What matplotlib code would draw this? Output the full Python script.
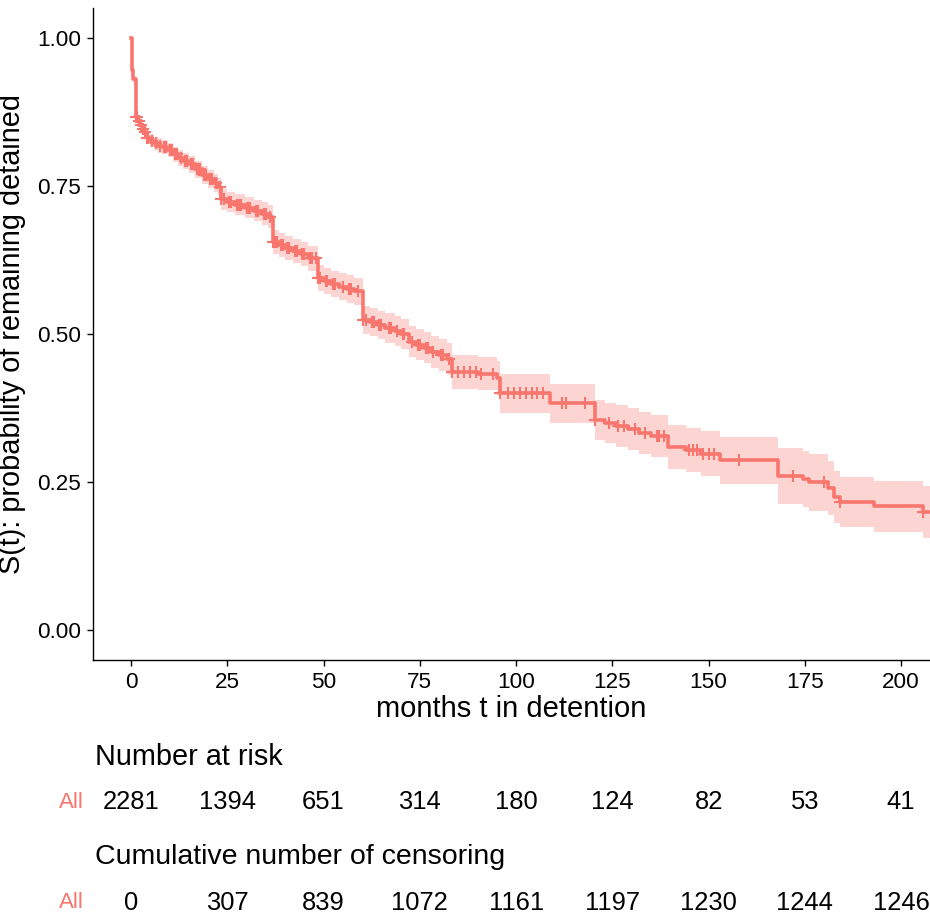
import matplotlib
matplotlib.use("Agg")
import matplotlib.pyplot as plt
import matplotlib.transforms as mtransforms
import numpy as np

plt.rcParams['font.family'] = ['Liberation Sans', 'DejaVu Sans']

RED = "#F8766D"

# Kaplan-Meier steps (time in months, S(t) after the step)
times = [0, 0.1, 0.2, 0.3, 0.4, 1.2, 1.6, 2.2, 2.8, 3.4, 4.0, 5.0, 6.0, 7.0, 8.0,
         9.5, 11, 12.3, 13.5, 15, 16.6, 18.4, 20, 21.5, 22.6, 23.4, 25, 27, 29.6,
         32, 34, 35.6, 36.9, 38.5, 40, 42, 44, 46, 48.6, 50, 52, 54, 56, 58, 60.3,
         62, 64, 66, 68.5, 70, 72.2, 74, 76, 78, 80, 82, 83.4, 90, 95, 95.8, 108.8,
         120.5, 123, 126, 129, 132, 135, 139.5, 144, 148, 153, 168, 174.5, 176,
         181, 182.5, 184, 193, 205.7]
surv = [1.0, 0.98, 0.96, 0.945, 0.93, 0.866, 0.86, 0.853, 0.846, 0.84, 0.83, 0.826,
        0.822, 0.818, 0.815, 0.81, 0.803, 0.797, 0.792, 0.786, 0.778, 0.768, 0.762,
        0.755, 0.748, 0.727, 0.722, 0.718, 0.713, 0.708, 0.703, 0.698, 0.655, 0.65,
        0.645, 0.64, 0.635, 0.628, 0.594, 0.59, 0.585, 0.58, 0.576, 0.572, 0.524,
        0.52, 0.515, 0.51, 0.505, 0.5, 0.487, 0.482, 0.477, 0.47, 0.465, 0.458,
        0.436, 0.433, 0.425, 0.40, 0.383, 0.355, 0.35, 0.345, 0.34, 0.333, 0.328,
        0.31, 0.305, 0.298, 0.287, 0.26, 0.255, 0.25, 0.24, 0.225, 0.216, 0.209,
        0.20]
# half width of the confidence band at each step
ci_half = [0.0, 0.002, 0.004, 0.005, 0.006, 0.008, 0.008, 0.009, 0.009, 0.01, 0.01,
           0.011, 0.011, 0.012, 0.012, 0.012, 0.013, 0.013, 0.013, 0.014, 0.014,
           0.015, 0.015, 0.015, 0.016, 0.017, 0.017, 0.018, 0.018, 0.018, 0.019,
           0.019, 0.02, 0.02, 0.02, 0.021, 0.021, 0.021, 0.022, 0.022, 0.022, 0.023,
           0.023, 0.023, 0.024, 0.024, 0.024, 0.025, 0.025, 0.025, 0.026, 0.026,
           0.026, 0.027, 0.027, 0.027, 0.028, 0.028, 0.029, 0.033, 0.033, 0.034,
           0.034, 0.035, 0.035, 0.036, 0.036, 0.037, 0.037, 0.038, 0.04, 0.047,
           0.047, 0.048, 0.046, 0.044, 0.042, 0.043, 0.044]

# censoring marks (months)
censor_times = [1.2, 1.5, 2.0, 2.5, 3.0, 3.5, 4.0, 4.5, 5.5, 6.5, 7.5, 8.5, 9, 10,
                10.5, 11.5, 12, 13, 14, 14.5, 15.5, 16, 17, 17.5, 18, 19, 19.5, 20.5,
                21, 22, 23, 23.4, 24, 25.5, 26, 27.5, 28, 28.5, 30, 30.5, 31, 32.5,
                33, 34.5, 35, 36, 36.9, 37.5, 38, 39, 39.5, 40.5, 41, 42.5, 43, 44.5,
                45, 46.5, 47, 48, 48.6, 49, 50.5, 51, 52.5, 53, 55, 56.5, 57, 59,
                60.3, 61, 62.5, 63, 64.5, 65, 67, 67.5, 69, 70.5, 71, 73, 74.5, 75,
                76.5, 77, 78.5, 80.5, 81, 82.5, 83.4, 85, 86.5, 88, 89.5, 91, 94,
                95.8, 98, 99.5, 101, 102.5, 104, 105.5, 107, 112, 113, 118, 120.5,
                124, 126.5, 128, 131, 133.5, 136.5, 137, 138.5, 145, 146, 147, 148.5,
                150, 151.5, 158, 172, 180, 184, 205.7]

# risk table
table_times = [0, 25, 50, 75, 100, 125, 150, 175, 200]
at_risk = [2281, 1394, 651, 314, 180, 124, 82, 53, 41]
censored = [0, 307, 839, 1072, 1161, 1197, 1230, 1244, 1246]

x_end = 207.5

fig = plt.figure(figsize=(9.3, 9.18), dpi=100)
ax = fig.add_axes([93 / 930, (918 - 660) / 918, 837 / 930, 652 / 918])

t = np.array(times + [x_end])
s = np.array(surv + [surv[-1]])
hw = np.array(ci_half + [ci_half[-1]])

ax.fill_between(t, s - hw, s + hw, step="post", color=RED, alpha=0.3, lw=0)
ax.step(t, s, where="post", color=RED, lw=2.6)

idx = np.searchsorted(times, censor_times, side="right") - 1
ax.plot(censor_times, np.array(surv)[idx], linestyle="none", marker="+",
        color=RED, markersize=9, markeredgewidth=1.5)

ax.set_xlim(-9.9, x_end)
ax.set_ylim(-0.05, 1.05)
ax.set_xticks(table_times)
ax.set_yticks([0, 0.25, 0.5, 0.75, 1.0])
ax.set_yticklabels(["0.00", "0.25", "0.50", "0.75", "1.00"])
ax.tick_params(labelsize=16.2, length=4.3, width=1.0, pad=4, colors="black")
for side in ["top", "right"]:
    ax.spines[side].set_visible(False)
for side in ["left", "bottom"]:
    ax.spines[side].set_linewidth(1.0)

ax.set_xlabel("months t in detention", fontsize=21, labelpad=2)
ax.set_ylabel("S(t): probability of remaining detained", fontsize=20.8, labelpad=8)


def fy(py):
    return 1 - py / 918


trans = mtransforms.blended_transform_factory(ax.transData, fig.transFigure)

fig.text(95 / 930, fy(757), "Number at risk", ha="left", va="center", fontsize=20.8)
fig.text(84 / 930, fy(802), "All", ha="right", va="center", fontsize=16, color=RED)
for x, n in zip(table_times, at_risk):
    fig.text(x, fy(802), str(n), transform=trans, ha="center", va="center", fontsize=18.4)

fig.text(95 / 930, fy(857), "Cumulative number of censoring", ha="left", va="center",
         fontsize=20.5)
fig.text(84 / 930, fy(903), "All", ha="right", va="center", fontsize=16, color=RED)
for x, n in zip(table_times, censored):
    fig.text(x, fy(903), str(n), transform=trans, ha="center", va="center", fontsize=18.4)

fig.savefig("out.png", dpi=100)
